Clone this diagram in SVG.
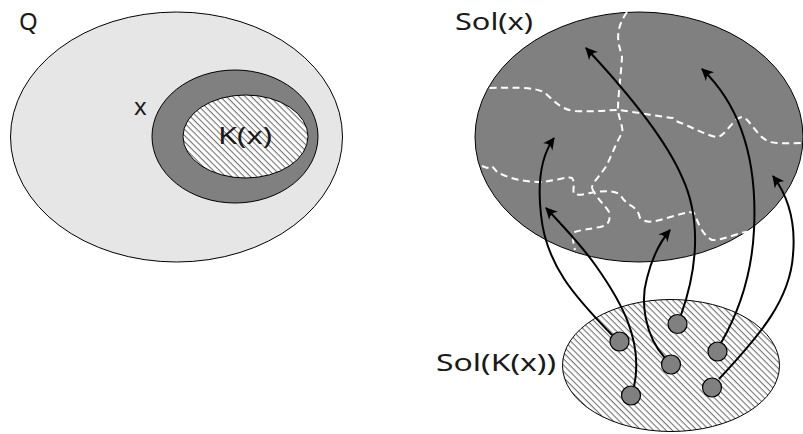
<svg xmlns="http://www.w3.org/2000/svg" width="803" height="434" viewBox="0 0 803 434">
<style>
.lbl{font-family:"Noto Sans","DejaVu Sans",sans-serif;font-size:24px;fill:#1a1a1a}
.set{stroke:#000;stroke-width:1}
.dash{fill:none;stroke:#fff;stroke-width:2;stroke-dasharray:7 4.5}
.arr{fill:none;stroke:#000;stroke-width:2;marker-end:url(#ah)}
.dot{fill:#808080;stroke:#000;stroke-width:1.2}
</style>
<defs>
<pattern id="hatch" patternUnits="userSpaceOnUse" width="4.4" height="4.4" patternTransform="rotate(45)">
<rect width="4.4" height="4.4" fill="#fff"/>
<line x1="0" y1="0.6" x2="4.4" y2="0.6" stroke="#555" stroke-width="0.9"/>
</pattern>
<marker id="ah" markerUnits="userSpaceOnUse" markerWidth="16" markerHeight="16" viewBox="-13 -8 16 16" refX="0" refY="0" orient="auto">
<path d="M1,0 L-11,-6 Q-6,0 -11,6 Z" fill="#000"/>
</marker>
</defs>
<g id="Q">
<ellipse class="set" cx="176.5" cy="137" rx="166" ry="125" fill="#e6e6e6"/>
<text class="lbl" x="19" y="30" font-size="25">Q</text>
</g>
<g id="x">
<ellipse class="set" cx="235" cy="136.5" rx="83" ry="66.5" fill="#808080"/>
<text class="lbl" x="134" y="115">x</text>
</g>
<g id="Kx">
<ellipse class="set" cx="245.5" cy="136.5" rx="62.5" ry="41.5" fill="url(#hatch)"/>
<text class="lbl" x="218" y="144" textLength="54" lengthAdjust="spacingAndGlyphs">K(x)</text>
</g>
<g id="Solx">
<ellipse class="set" cx="639" cy="137" rx="164" ry="125" fill="#808080"/>
<path class="dash" d="M627,12 C618,25 617,35 619,45 L622,57 C621,75 618,95 618,110 C619,120 624,128 622,133 C615,145 610,160 605,168 C598,178 592,183 592,188"/>
<path class="dash" d="M478,88 C510,88 535,86 545,93 C555,102 562,110 575,111 C595,112 610,110 618,110 C635,112 655,116 673,118 L676,121 C690,126 705,135 717,137 C725,137 733,118 742,117 C750,118 757,138 770,142 C780,144 795,143 805,143"/>
<path class="dash" d="M482,166 L487,168 L492,166 L497,172 C507,178 525,182 540,182 C555,181 568,176 572,178 C576,183 572,190 574,194 C580,196 588,193 595,192 C605,191 615,190 620,195 L624,200 L628,204 C634,207 638,210 640,218 C645,223 652,222 660,220 C675,216 690,210 694,213 C698,222 702,235 712,240 C725,241 745,228 757,232"/>
<path class="dash" d="M592,188 C596,198 605,205 609,212 C611,222 608,225 600,227 C590,229 580,230 575,232 C572,238 573,243 575,250"/>
<text class="lbl" x="455" y="30" textLength="78" lengthAdjust="spacingAndGlyphs">Sol(x)</text>
</g>
<g id="SolKx">
<ellipse class="set" cx="671" cy="365.5" rx="108.5" ry="66" fill="url(#hatch)"/>
<text class="lbl" x="436" y="371" textLength="120" lengthAdjust="spacingAndGlyphs">Sol(K(x))</text>
</g>
<g id="connectors">
<path class="arr" d="M612,335 C575,297 546,265 541,215 C537,180 541,156 554,138"/>
<path class="arr" d="M634,387 C644,340 620,300 596,266 C582,246 565,228 546,208"/>
<path class="arr" d="M665,358 C645,336 640,302 647,278 C652,258 659,243 670,230"/>
<path class="arr" d="M681,315 C697,270 702,220 682,177 C666,140 630,95 586,48"/>
<path class="arr" d="M721,343 C740,310 752,270 754,230 C757,170 745,110 702,69"/>
<path class="arr" d="M719,379 C760,335 790,300 793,255 C796,222 788,196 773,176"/>
</g>
<g id="dots">
<circle class="dot" cx="619.5" cy="341.5" r="9.5"/>
<circle class="dot" cx="677.5" cy="324" r="9.5"/>
<circle class="dot" cx="717.5" cy="351.5" r="9.5"/>
<circle class="dot" cx="671" cy="364.5" r="9.5"/>
<circle class="dot" cx="631" cy="395.5" r="9.5"/>
<circle class="dot" cx="712" cy="387.5" r="9.5"/>
</g>
</svg>
